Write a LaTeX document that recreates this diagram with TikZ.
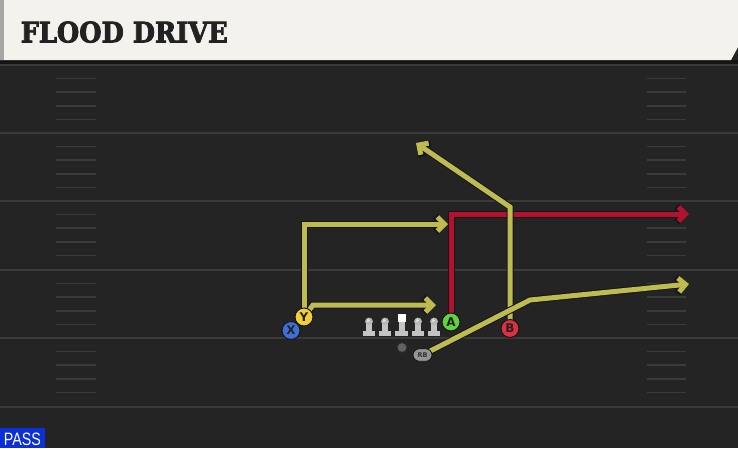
\documentclass[tikz,border=0pt]{standalone}
\usepackage{fontspec}
\usepackage{graphicx}
\setmainfont{DejaVu Serif}
\setsansfont{Liberation Sans}
\newfontfamily\titlefont[BoldFeatures={FakeBold=3}]{DejaVu Serif}
\newfontfamily\plyfont{DejaVu Sans}
\usetikzlibrary{arrows.meta,shapes.misc}
\definecolor{fieldbg}{HTML}{242424}
\definecolor{fieldline}{HTML}{3A3A3A}
\definecolor{headbg}{HTML}{F4F2EC}
\definecolor{titlecol}{HTML}{222222}
\definecolor{routey}{HTML}{BEBC4F}
\definecolor{router}{HTML}{B3122F}
\definecolor{routeedge}{HTML}{15151C}
\definecolor{pxcol}{HTML}{3F6FD6}
\definecolor{pycol}{HTML}{F2CF36}
\definecolor{pacol}{HTML}{62D33C}
\definecolor{pbcol}{HTML}{E0303F}
\definecolor{passblue}{HTML}{0C2FD8}
\definecolor{olcol}{HTML}{C4C4C4}
\tikzset{
  route/.style={draw=#1, line width=5pt, line join=miter, line cap=butt,
    -{Straight Barb[length=7pt,width=14pt]},
    preaction={draw=routeedge, line width=7pt, -{Straight Barb[length=7.6pt,width=16pt]}}},
  player/.style={circle, minimum size=18pt, inner sep=0pt, fill=#1, draw=routeedge,
    line width=1pt, text=titlecol, font=\plyfont\bfseries\fontsize{12}{12}\selectfont},
  yardline/.style={draw=fieldline, line width=2pt},
  hashline/.style={draw=fieldline, line width=1.5pt},
}
\begin{document}
\begin{tikzpicture}[x=1pt,y=-1pt]
\useasboundingbox (0,0) rectangle (738,448);
% field
\fill[fieldbg] (0,0) rectangle (738,448);
\fill[black!92] (0,60) rectangle (738,64);
\foreach \yy in {65,133,201,270,338,407} {
  \draw[yardline] (0,\yy) -- (738,\yy);
}
\foreach \base in {65,133,201,270,338} {
  \foreach \k in {1,2,3,4} {
    \draw[hashline] (56,\base+\k*13.6) -- (96,\base+\k*13.6);
    \draw[hashline] (647,\base+\k*13.6) -- (686,\base+\k*13.6);
  }
}
% header
\fill[headbg] (0,0) -- (738,0) -- (738,47) -- (731,60) -- (0,60) -- cycle;
\fill[black!35] (0,0) rectangle (4,60);
\node[anchor=south west, inner sep=0pt, text=titlecol] (title) at (20.5,43)
  {\resizebox{207pt}{21pt}{\titlefont\bfseries FLOOD DRIVE}};
% pass tag
\fill[passblue] (0,428) rectangle (45,448);
\node[inner sep=0pt, text=white] (pass) at (22.5,439)
  {\resizebox{37pt}{12.5pt}{\sffamily PASS}};
% player positions
\coordinate (Xp) at (291,330.5);
\coordinate (Yp) at (304,317);
\coordinate (Ap) at (451,322);
\coordinate (Bp) at (510,328.5);
\coordinate (RBp) at (422.5,355);
% route points
\coordinate (y1) at (304,224);
\coordinate (y1e) at (448,224);
\coordinate (y2) at (313,305);
\coordinate (y2e) at (436,305);
\coordinate (a1) at (451,214);
\coordinate (a1e) at (689,214);
\coordinate (b1) at (510,207);
\coordinate (b1e) at (416,143);
\coordinate (r1) at (530,300);
\coordinate (r1e) at (689,284);
% routes
\draw[route=routey] (Yp) -- (y1) -- (y1e);
\draw[route=routey] (Yp) -- (y2) -- (y2e);
\draw[route=router] (Ap) -- (a1) -- (a1e);
\draw[route=routey] (Bp) -- (b1) -- (b1e);
\draw[route=routey] (RBp) -- (r1) -- (r1e);
% offensive line
\foreach \xx/\nm in {369/lt,385/lg,418/rg,434/rt} {
  \fill[olcol] (\xx-6.3,331.3) rectangle (\xx+6.3,336.3);
  \fill[olcol] (\xx-3,322) rectangle (\xx+3,332);
  \fill[black!28] (\xx,321.5) circle (3.9);
  \fill[black!12] (\xx-0.8,320.5) circle (1.7);
}
\fill[olcol] (401.7-6.3,331.3) rectangle (401.7+6.3,336.3);
\fill[olcol] (401.7-3,321) rectangle (401.7+3,332);
\fill[white] (397.5,313.8) rectangle (405.9,322);
% QB and RB
\node[circle, minimum size=9.5pt, inner sep=0pt, fill=black!62, draw=black!80, line width=0.6pt] (qb) at (402,347.5) {};
\node[rounded rectangle, minimum width=19pt, minimum height=12.5pt, inner sep=0pt,
  fill=black!42, draw=routeedge, line width=0.8pt, text=black!80,
  font=\plyfont\bfseries\fontsize{6.5}{6.5}\selectfont] (rb) at (RBp) {RB};
% skill players
\node[player=pxcol] (x) at (Xp) {X};
\node[player=pycol] (y) at (Yp) {Y};
\node[player=pacol] (a) at (Ap) {A};
\node[player=pbcol] (b) at (Bp) {B};
\end{tikzpicture}
\end{document}
